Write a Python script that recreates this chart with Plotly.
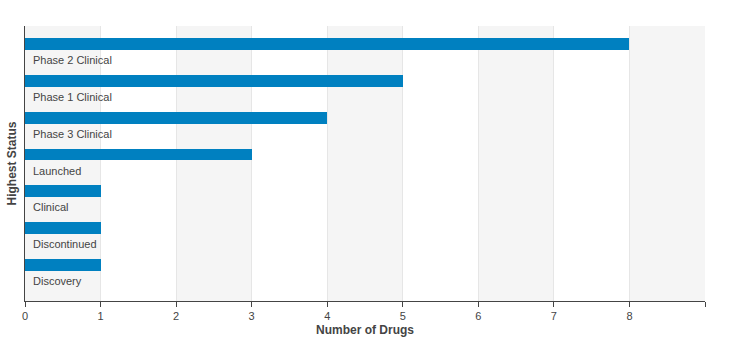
import plotly.graph_objects as go

categories = ["Phase 2 Clinical", "Phase 1 Clinical", "Phase 3 Clinical", "Launched",
              "Clinical", "Discontinued", "Discovery"]
values = [8, 5, 4, 3, 1, 1, 1]
x_ticks = list(range(0, 10))
x_tick_labels = [str(v) for v in range(0, 9)] + [""]

positions = list(range(len(categories)))
BAR_COLOR = "#0080C0"
FONT = "Liberation Sans, Arial, sans-serif"

fig = go.Figure()
fig.add_trace(go.Bar(
    x=values, y=positions, orientation="h",
    marker=dict(color=BAR_COLOR, line=dict(width=0)),
    width=0.32, hoverinfo="x+text", text=categories, textposition="none",
))

# alternating background bands
shapes = []
for i in range(0, 9, 2):
    shapes.append(dict(type="rect", xref="x", yref="paper", x0=i, x1=i + 1, y0=0, y1=1,
                       fillcolor="#F5F5F5", line=dict(width=0), layer="below"))

annotations = []
for p, c in zip(positions, categories):
    annotations.append(dict(x=0, y=p + 0.44, xref="x", yref="y", text=c, showarrow=False,
                            xanchor="left", yanchor="middle", xshift=6,
                            font=dict(family=FONT, size=11, color="#444444")))

fig.update_layout(
    width=737, height=351,
    margin=dict(l=25, r=32, t=26, b=50),
    paper_bgcolor="white", plot_bgcolor="white",
    showlegend=False, bargap=0,
    shapes=shapes, annotations=annotations,
    font=dict(family=FONT, size=11, color="#444444"),
    xaxis=dict(
        range=[0, 9], tickvals=x_ticks, ticktext=x_tick_labels,
        showgrid=True, gridcolor="#E6E6E6", gridwidth=1,
        zeroline=False, showline=True, linecolor="#444444", linewidth=1,
        ticks="outside", ticklen=5, tickcolor="#444444",
        tickfont=dict(family=FONT, size=11, color="#444444"),
        title=dict(text="<b>Number of Drugs</b>", standoff=4,
                   font=dict(family=FONT, size=12, color="#444444")),
    ),
    yaxis=dict(
        range=[6.98, -0.49], showticklabels=False, showgrid=False, zeroline=False,
        showline=True, linecolor="#444444", linewidth=1, ticks="",
        title=dict(text="<b>Highest Status</b>", standoff=4,
                   font=dict(family=FONT, size=12, color="#444444")),
    ),
)

fig.write_html("out.html")
